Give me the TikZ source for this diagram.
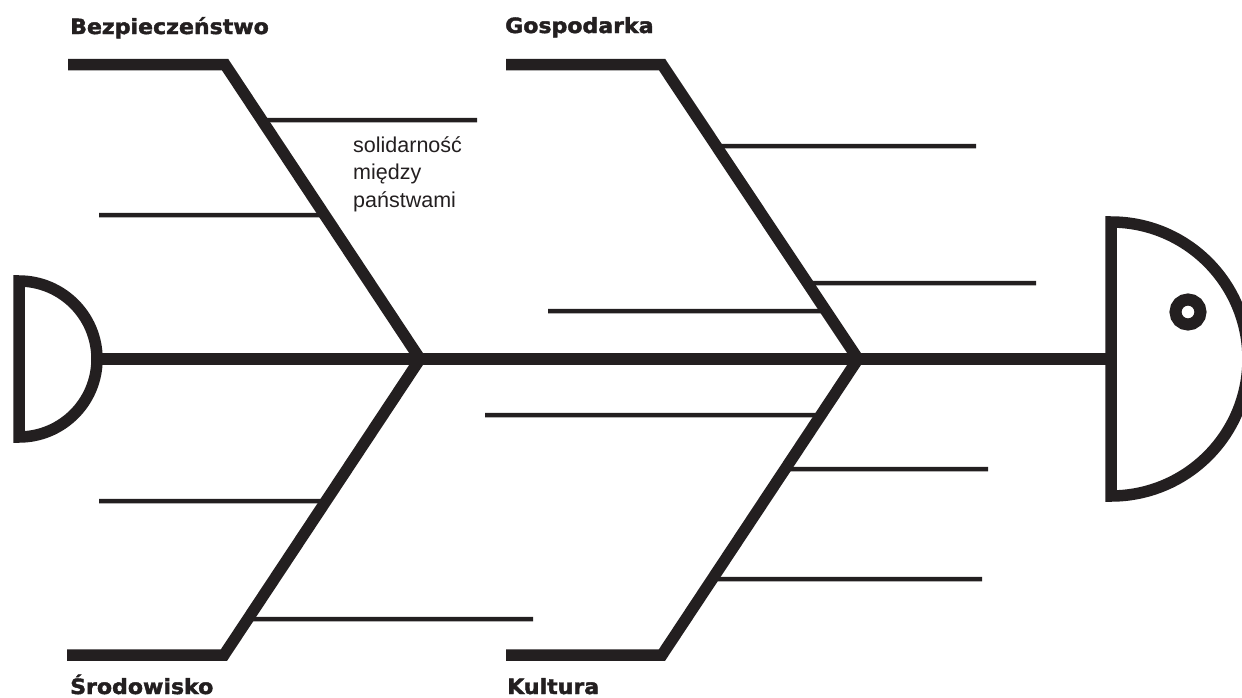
\documentclass[tikz,border=0pt]{standalone}
\usepackage{fontspec}
\setmainfont{Liberation Sans}
\newfontface\heavyfont[FakeStretch=1.05, FakeBold=2]{DejaVu Sans Bold}
\definecolor{inkblack}{RGB}{35,31,32}

\begin{document}
\begin{tikzpicture}[x=1pt, y=-1pt,
    bone/.style={draw=inkblack, line width=11.5pt, line join=miter},
    spine/.style={draw=inkblack, line width=12pt},
    rib/.style={draw=inkblack, line width=4.5pt},
    heading/.style={anchor=base west, inner sep=0pt, text=inkblack, font=\heavyfont\fontsize{21}{25}\selectfont},
    note/.style={anchor=base west, inner sep=0pt, align=left, text=inkblack, font=\fontsize{21.5}{27.5}\selectfont}]
    \useasboundingbox (0,0) rectangle (1242,697);
    \clip (0,0) rectangle (1242,697);

    \coordinate (tail) at (97,359);
    \coordinate (head) at (1111,359);
    \coordinate (J1) at (420,359); % left junction
    \coordinate (J2) at (858,359); % right junction
    \coordinate (UL) at (225,64.5);
    \coordinate (LL) at (224,655);
    \coordinate (UR) at (662,64.5);
    \coordinate (LR) at (662,655);

    % ribs
    \foreach \yy/\xx in {120/477, 215/99}
        \draw[rib] (intersection of J1--UL and 0,\yy--1,\yy) -- (\xx,\yy);
    \foreach \yy/\xx in {501/99, 619/533}
        \draw[rib] (intersection of J1--LL and 0,\yy--1,\yy) -- (\xx,\yy);
    \foreach \yy/\xx in {146/976, 283/1036, 311/548}
        \draw[rib] (intersection of J2--UR and 0,\yy--1,\yy) -- (\xx,\yy);
    \foreach \yy/\xx in {415/485, 469/988, 579/982}
        \draw[rib] (intersection of J2--LR and 0,\yy--1,\yy) -- (\xx,\yy);

    % bones
    \draw[bone] (68,64.5) -- (UL) -- (J1) -- (LL) -- (67,655);
    \draw[bone] (506,64.5) -- (UR) -- (J2) -- (LR) -- (506,655);
    \draw[spine] (tail) -- (head);

    % tail and head
    \draw[bone] (19,281) arc[start angle=-90, end angle=90, radius=78] -- cycle;
    \draw[bone] (1111,222) arc[start angle=-90, end angle=90, radius=137] -- cycle;
    \draw[bone, line width=12pt] (1188,312) circle[radius=12.5];

    \node[heading] (bezp) at (70,34) {Bezpieczeństwo};
    \node[heading] (gosp) at (505,33) {Gospodarka};
    \node[heading] (srod) at (70,694) {Środowisko};
    \node[heading] (kult) at (507,694) {Kultura};
    \node[note] (solid) at (353,207) {solidarność\\między\\państwami};
\end{tikzpicture}
\end{document}
